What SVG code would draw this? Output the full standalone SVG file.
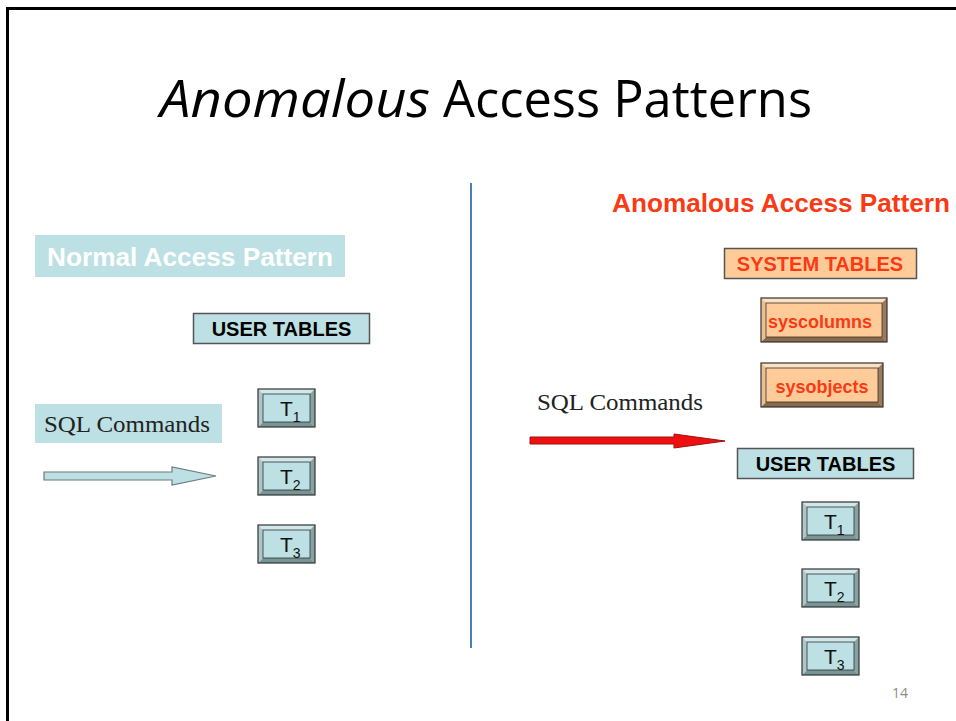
<svg xmlns="http://www.w3.org/2000/svg" xmlns:xlink="http://www.w3.org/1999/xlink" width="956" height="721" viewBox="0 0 956 721">
<style>
.sans{font-family:"Liberation Sans",Arial,sans-serif}
.serif{font-family:"Liberation Serif","Times New Roman",serif}
.title{font-family:"Open Sans","Noto Sans",sans-serif;font-size:52px;fill:#000}
.bold{font-weight:bold}
.teal{fill:#bce0e3}
.orange{fill:#ffcc99}
.red{fill:#f93a14}
.box{stroke:#555;stroke-width:1.5}
.tt-top{fill:#d0e8e9}.tt-left{fill:#abc7c8}.tt-right{fill:#86a2a3}.tt-bot{fill:#789596}
.oo-top{fill:#ffe0c0}.oo-left{fill:#efbf8f}.oo-right{fill:#9b7b5b}.oo-bot{fill:#8a6a4a}
.tlab{font-size:21px;fill:#111}
.sub{font-size:14px}
</style>
<defs>
<g id="tbtn">
<rect x="0" y="0" width="57" height="38" fill="#bce0e3"/>
<polygon class="tt-top" points="0,0 57,0 52,5 5,5"/>
<polygon class="tt-right" points="57,0 57,38 52,33 52,5"/>
<polygon class="tt-bot" points="0,38 57,38 52,33 5,33"/>
<polygon class="tt-left" points="0,0 5,5 5,33 0,38"/>
<rect x="5" y="5" width="47" height="28" fill="#bce0e3" stroke="#333" stroke-width="0.8"/>
<rect x="0" y="0" width="57" height="38" fill="none" stroke="#333" stroke-width="1.2"/>
</g>
</defs>
<rect width="956" height="721" fill="#fff"/>
<g id="frame">
<line x1="6" y1="8.5" x2="956" y2="8.5" stroke="#000" stroke-width="3"/>
<line x1="7.5" y1="7" x2="7.5" y2="721" stroke="#000" stroke-width="3"/>
</g>
<g id="title">
<text class="title" x="160" y="117" font-style="italic" textLength="270" lengthAdjust="spacingAndGlyphs">Anomalous</text>
<text class="title" x="443" y="117" textLength="369" lengthAdjust="spacingAndGlyphs">Access Patterns</text>
</g>
<line id="divider" x1="471" y1="183" x2="471" y2="648" stroke="#4a7ebb" stroke-width="2"/>
<g id="normal-label">
<rect class="teal" x="35" y="235" width="310" height="42"/>
<text class="sans bold" x="47" y="266" font-size="26" fill="#fff" textLength="286" lengthAdjust="spacingAndGlyphs">Normal Access Pattern</text>
</g>
<g id="user-tables-left">
<rect class="teal box" x="193.5" y="313.5" width="176" height="30"/>
<text class="sans bold" x="281.5" y="336" font-size="20" text-anchor="middle" fill="#000">USER TABLES</text>
</g>
<g id="sql-left">
<rect class="teal" x="35" y="404" width="187" height="39"/>
<text class="serif" x="44" y="432" font-size="24" fill="#222" textLength="166" lengthAdjust="spacingAndGlyphs">SQL Commands</text>
</g>
<g id="t1-left"><use xlink:href="#tbtn" x="258" y="389"/><text class="sans tlab" x="280" y="416">T<tspan class="sub" y="422">1</tspan></text></g>
<g id="t2-left"><use xlink:href="#tbtn" x="258" y="457"/><text class="sans tlab" x="280" y="484">T<tspan class="sub" y="490">2</tspan></text></g>
<g id="t3-left"><use xlink:href="#tbtn" x="258" y="525"/><text class="sans tlab" x="280" y="552">T<tspan class="sub" y="558">3</tspan></text></g>
<g id="anomalous-label">
<text class="sans bold red" x="612" y="212" font-size="26" textLength="338" lengthAdjust="spacingAndGlyphs">Anomalous Access Pattern</text>
</g>
<g id="system-tables">
<rect class="orange box" x="724.5" y="248.5" width="192" height="30"/>
<text class="sans bold red" x="820" y="271" font-size="20" text-anchor="middle">SYSTEM TABLES</text>
</g>
<g id="syscolumns">
<rect class="orange" x="761" y="298" width="126" height="44"/>
<polygon class="oo-top" points="761,298 887,298 882,303 766,303"/>
<polygon class="oo-right" points="887,298 887,342 882,337 882,303"/>
<polygon class="oo-bot" points="761,342 887,342 882,337 766,337"/>
<polygon class="oo-left" points="761,298 766,303 766,337 761,342"/>
<rect class="orange" x="766" y="303" width="116" height="34" stroke="#333" stroke-width="0.8"/>
<rect x="761" y="298" width="126" height="44" fill="none" stroke="#333" stroke-width="1.2"/>
<text class="sans bold red" x="820" y="328" font-size="18" text-anchor="middle">syscolumns</text>
</g>
<g id="sysobjects">
<rect class="orange" x="761" y="363" width="122" height="44"/>
<polygon class="oo-top" points="761,363 883,363 878,368 766,368"/>
<polygon class="oo-right" points="883,363 883,407 878,402 878,368"/>
<polygon class="oo-bot" points="761,407 883,407 878,402 766,402"/>
<polygon class="oo-left" points="761,363 766,368 766,402 761,407"/>
<rect class="orange" x="766" y="368" width="112" height="34" stroke="#333" stroke-width="0.8"/>
<rect x="761" y="363" width="122" height="44" fill="none" stroke="#333" stroke-width="1.2"/>
<text class="sans bold red" x="822" y="393" font-size="18" text-anchor="middle">sysobjects</text>
</g>
<g id="sql-right">
<text class="serif" x="537" y="410" font-size="24" fill="#222" textLength="166" lengthAdjust="spacingAndGlyphs">SQL Commands</text>
</g>
<g id="user-tables-right">
<rect class="teal box" x="737.5" y="448.5" width="176" height="30"/>
<text class="sans bold" x="825.5" y="471" font-size="20" text-anchor="middle" fill="#000">USER TABLES</text>
</g>
<g id="t1-right"><use xlink:href="#tbtn" x="802" y="502"/><text class="sans tlab" x="824" y="529">T<tspan class="sub" y="535">1</tspan></text></g>
<g id="t2-right"><use xlink:href="#tbtn" x="802" y="569"/><text class="sans tlab" x="824" y="596">T<tspan class="sub" y="602">2</tspan></text></g>
<g id="t3-right"><use xlink:href="#tbtn" x="802" y="637"/><text class="sans tlab" x="824" y="664">T<tspan class="sub" y="670">3</tspan></text></g>
<g id="connectors">
<polygon points="44,472 172,472 172,467 216,476 172,485 172,480 44,480" fill="#bce0e3" stroke="#6a7a7a" stroke-width="1.2"/>
<polygon points="530,437 674,437 674,434 725,441 674,448 674,444 530,444" fill="#ee1010" stroke="#a01010" stroke-width="1"/>
</g>
<text id="page-number" x="900" y="698" font-family="Open Sans, sans-serif" font-size="14" fill="#8c8c8c" text-anchor="middle">14</text>
</svg>
